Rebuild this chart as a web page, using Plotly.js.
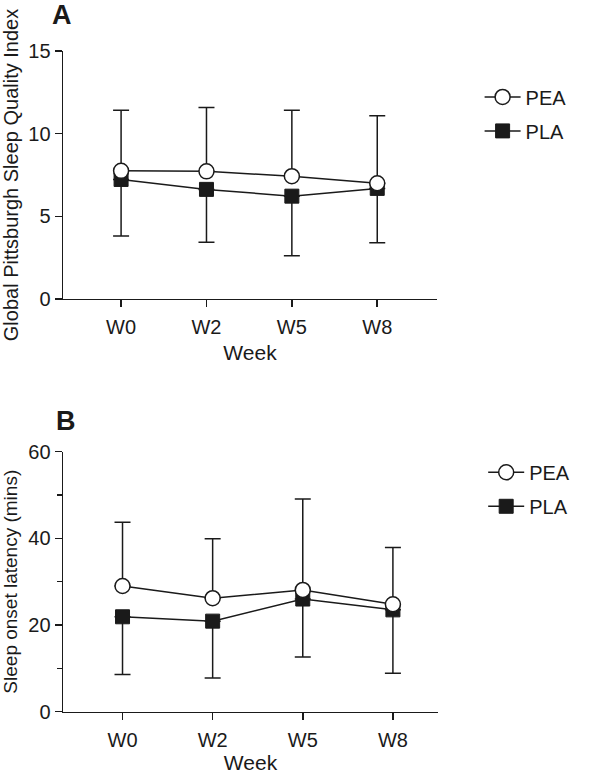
<!DOCTYPE html>
<html>
<head>
<meta charset="utf-8">
<script src="https://cdn.plot.ly/plotly-3.0.1.min.js"></script>
<style>html,body{margin:0;padding:0;background:#fff;}#chart{width:598px;height:774px;}</style>
</head>
<body>
<div id="chart"></div>
<script>
// Categories
const weeks = ["W0", "W2", "W5", "W8"];

// Panel A: Global Pittsburgh Sleep Quality Index
const peaA = [7.75, 7.72, 7.43, 7.0];
const peaA_sdUp = [3.67, 3.86, 3.99, 4.08];
const plaA = [7.23, 6.63, 6.22, 6.69];
const plaA_sdDown = [3.42, 3.2, 3.6, 3.29];

// Panel B: Sleep onset latency (mins)
const peaB = [29.0, 26.2, 28.1, 24.8];
const peaB_sdUp = [14.7, 13.7, 21.0, 13.1];
const plaB = [21.9, 20.9, 26.0, 23.5];
const plaB_sdDown = [13.3, 13.1, 13.4, 14.6];

const zeros = [0, 0, 0, 0];
const ink = "#1a1a1a";
const FONT = "Liberation Sans, Arial, sans-serif";

function peaTrace(y, up, xa, ya, legend) {
  return {
    x: weeks, y: y, xaxis: xa, yaxis: ya, legend: legend,
    name: "PEA", legendgroup: "pea" + xa, legendrank: 1,
    type: "scatter", mode: "lines+markers",
    line: {color: ink, width: 1.5},
    marker: {symbol: "circle", size: 15, color: "#ffffff", line: {color: ink, width: 1.5}},
    error_y: {type: "data", symmetric: false, array: up, arrayminus: zeros, color: ink, thickness: 1.5, width: 8}
  };
}
function plaTrace(y, down, xa, ya, legend) {
  return {
    x: weeks, y: y, xaxis: xa, yaxis: ya, legend: legend,
    name: "PLA", legendgroup: "pla" + xa, legendrank: 2,
    type: "scatter", mode: "lines+markers",
    line: {color: ink, width: 1.5},
    marker: {symbol: "square", size: 14, color: ink, line: {color: ink, width: 1}},
    error_y: {type: "data", symmetric: false, array: zeros, arrayminus: down, color: ink, thickness: 1.5, width: 8}
  };
}

const data = [
  plaTrace(plaA, plaA_sdDown, "x", "y", "legend"),
  peaTrace(peaA, peaA_sdUp, "x", "y", "legend"),
  plaTrace(plaB, plaB_sdDown, "x2", "y2", "legend2"),
  peaTrace(peaB, peaB_sdUp, "x2", "y2", "legend2")
];

const axisCommon = {
  showline: true, linecolor: ink, linewidth: 1.5,
  ticks: "outside", ticklen: 7, tickwidth: 1.5, tickcolor: ink,
  showgrid: false, zeroline: false,
  tickfont: {family: FONT, size: 20, color: ink}
};

const legendCommon = {
  font: {family: FONT, size: 20, color: ink},
  bgcolor: "rgba(0,0,0,0)", traceorder: "grouped", tracegroupgap: 5,
  itemwidth: 36, xanchor: "left", yanchor: "top"
};

const layout = {
  width: 598, height: 774,
  margin: {l: 0, r: 0, t: 0, b: 0},
  paper_bgcolor: "#ffffff", plot_bgcolor: "#ffffff",
  font: {family: FONT, color: ink},
  showlegend: true,
  xaxis: Object.assign({}, axisCommon, {
    domain: [0.1054, 0.7308], anchor: "y", type: "category", range: [-0.68, 3.70],
    ticklabelstandoff: 3,
    title: {text: "Week", font: {family: FONT, size: 21, color: ink}, standoff: 8}
  }),
  yaxis: Object.assign({}, axisCommon, {
    domain: [0.6137, 0.9341], anchor: "x", range: [0, 15], tickvals: [0, 5, 10, 15],
    title: {text: "Global Pittsburgh Sleep Quality Index", font: {family: FONT, size: 20, color: ink}, standoff: 5}
  }),
  xaxis2: Object.assign({}, axisCommon, {
    domain: [0.1054, 0.7324], anchor: "y2", type: "category", range: [-0.66, 3.50],
    ticklabelstandoff: 3,
    title: {text: "Week", font: {family: FONT, size: 21, color: ink}, standoff: 8}
  }),
  yaxis2: Object.assign({}, axisCommon, {
    domain: [0.0805, 0.4164], anchor: "x2", range: [0, 60], tickvals: [0, 20, 40, 60],
    minor: {tickvals: [10, 30, 50], ticks: "outside", ticklen: 5, tickwidth: 1.5, tickcolor: ink},
    title: {text: "Sleep onset latency (mins)", font: {family: FONT, size: 19, color: ink}, standoff: 5}
  }),
  legend: Object.assign({}, legendCommon, {x: 0.802, y: 0.90}),
  legend2: Object.assign({}, legendCommon, {x: 0.808, y: 0.415}),
  annotations: [
    {text: "<b>A</b>", xref: "paper", yref: "paper", x: 62 / 598, y: 1 - 15 / 774, xanchor: "center", yanchor: "middle",
     showarrow: false, font: {family: FONT, size: 27, color: ink}},
    {text: "<b>B</b>", xref: "paper", yref: "paper", x: 66 / 598, y: 1 - 421 / 774, xanchor: "center", yanchor: "middle",
     showarrow: false, font: {family: FONT, size: 27, color: ink}}
  ]
};

Plotly.newPlot("chart", data, layout, {displayModeBar: false, staticPlot: true});
</script>
</body>
</html>
